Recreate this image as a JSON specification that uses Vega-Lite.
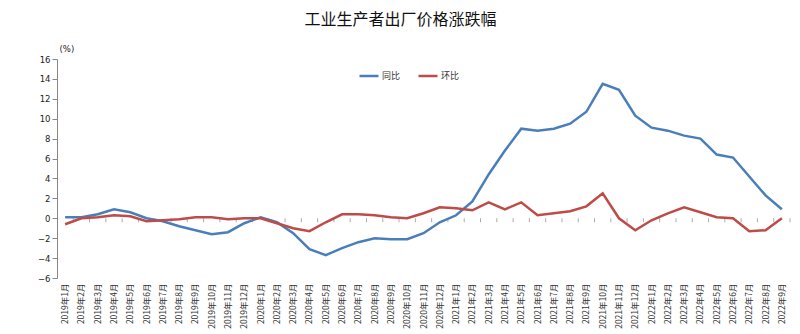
{
  "$schema": "https://vega.github.io/schema/vega-lite/v6.json",
  "width": 733,
  "height": 219,
  "autosize": {"type": "none"},
  "padding": {"left": 57, "top": 59, "right": 10, "bottom": 56},
  "background": "white",
  "title": {"text": "工业生产者出厂价格涨跌幅", "font": "Noto Sans CJK SC", "fontSize": 16, "fontWeight": "normal", "color": "#111", "anchor": "middle", "dx": -23, "offset": 16},
  "config": {"view": {"stroke": null}},
  "data": {"values": [
    {"m": "2019年1月", "同比": 0.1, "环比": -0.6},
    {"m": "2019年2月", "同比": 0.1, "环比": 0.0},
    {"m": "2019年3月", "同比": 0.4, "环比": 0.1},
    {"m": "2019年4月", "同比": 0.9, "环比": 0.3},
    {"m": "2019年5月", "同比": 0.6, "环比": 0.2},
    {"m": "2019年6月", "同比": 0.0, "环比": -0.3},
    {"m": "2019年7月", "同比": -0.3, "环比": -0.2},
    {"m": "2019年8月", "同比": -0.8, "环比": -0.1},
    {"m": "2019年9月", "同比": -1.2, "环比": 0.1},
    {"m": "2019年10月", "同比": -1.6, "环比": 0.1},
    {"m": "2019年11月", "同比": -1.4, "环比": -0.1},
    {"m": "2019年12月", "同比": -0.5, "环比": 0.0},
    {"m": "2020年1月", "同比": 0.1, "环比": 0.0},
    {"m": "2020年2月", "同比": -0.4, "环比": -0.5},
    {"m": "2020年3月", "同比": -1.5, "环比": -1.0},
    {"m": "2020年4月", "同比": -3.1, "环比": -1.3},
    {"m": "2020年5月", "同比": -3.7, "环比": -0.4},
    {"m": "2020年6月", "同比": -3.0, "环比": 0.4},
    {"m": "2020年7月", "同比": -2.4, "环比": 0.4},
    {"m": "2020年8月", "同比": -2.0, "环比": 0.3},
    {"m": "2020年9月", "同比": -2.1, "环比": 0.1},
    {"m": "2020年10月", "同比": -2.1, "环比": 0.0},
    {"m": "2020年11月", "同比": -1.5, "环比": 0.5},
    {"m": "2020年12月", "同比": -0.4, "环比": 1.1},
    {"m": "2021年1月", "同比": 0.3, "环比": 1.0},
    {"m": "2021年2月", "同比": 1.7, "环比": 0.8},
    {"m": "2021年3月", "同比": 4.4, "环比": 1.6},
    {"m": "2021年4月", "同比": 6.8, "环比": 0.9},
    {"m": "2021年5月", "同比": 9.0, "环比": 1.6},
    {"m": "2021年6月", "同比": 8.8, "环比": 0.3},
    {"m": "2021年7月", "同比": 9.0, "环比": 0.5},
    {"m": "2021年8月", "同比": 9.5, "环比": 0.7},
    {"m": "2021年9月", "同比": 10.7, "环比": 1.2},
    {"m": "2021年10月", "同比": 13.5, "环比": 2.5},
    {"m": "2021年11月", "同比": 12.9, "环比": 0.0},
    {"m": "2021年12月", "同比": 10.3, "环比": -1.2},
    {"m": "2022年1月", "同比": 9.1, "环比": -0.2},
    {"m": "2022年2月", "同比": 8.8, "环比": 0.5},
    {"m": "2022年3月", "同比": 8.3, "环比": 1.1},
    {"m": "2022年4月", "同比": 8.0, "环比": 0.6},
    {"m": "2022年5月", "同比": 6.4, "环比": 0.1},
    {"m": "2022年6月", "同比": 6.1, "环比": 0.0},
    {"m": "2022年7月", "同比": 4.2, "环比": -1.3},
    {"m": "2022年8月", "同比": 2.3, "环比": -1.2},
    {"m": "2022年9月", "同比": 0.9, "环比": 0.0}
  ]},
  "encoding": {
    "x": {
      "field": "m", "type": "ordinal", "sort": null,
      "axis": {"title": null, "labelAngle": -90, "labelFont": "Noto Sans CJK SC", "labelFontSize": 8.5, "labelColor": "#333", "labelPadding": 5, "ticks": false, "domain": false, "grid": false, "labelOverlap": false}
    }
  },
  "layer": [
    {
      "mark": {"type": "tick", "orient": "vertical", "size": 4, "thickness": 1, "color": "#888", "xOffset": 8.14, "yOffset": 2},
      "encoding": {
        "y": {
          "datum": 0, "type": "quantitative",
          "scale": {"domain": [-6, 16], "nice": false},
          "axis": {"values": [-6, -4, -2, 0, 2, 4, 6, 8, 10, 12, 14, 16], "gridColor": "#999", "domainColor": "#888", "tickColor": "#888", "tickSize": 5, "labelPadding": 2, "labelFont": "DejaVu Sans", "labelFontSize": 8.5, "labelColor": "#222", "title": "(%)", "titleAngle": 0, "titleAlign": "left", "titleBaseline": "alphabetic", "titleX": 2, "titleY": -8, "titleFont": "DejaVu Sans", "titleFontSize": 8.5, "titleFontWeight": "normal", "titleColor": "#222"}
        }
      }
    },
    {
      "transform": [{"fold": ["同比", "环比"], "as": ["s", "v"]}],
      "mark": {"type": "line", "strokeWidth": 2.5},
      "encoding": {
        "y": {
          "field": "v", "type": "quantitative",
          "scale": {"domain": [-6, 16], "nice": false},
          "axis": {"values": [-6, -4, -2, 0, 2, 4, 6, 8, 10, 12, 14, 16], "gridColor": "#999", "domainColor": "#888", "tickColor": "#888", "tickSize": 5, "labelPadding": 2, "labelFont": "DejaVu Sans", "labelFontSize": 8.5, "labelColor": "#222", "title": "(%)", "titleAngle": 0, "titleAlign": "left", "titleBaseline": "alphabetic", "titleX": 2, "titleY": -8, "titleFont": "DejaVu Sans", "titleFontSize": 8.5, "titleFontWeight": "normal", "titleColor": "#222"}
        },
        "color": {
          "field": "s", "type": "nominal",
          "scale": {"domain": ["同比", "环比"], "range": ["#4A7EBB", "#BE4B48"]},
          "legend": {"title": null, "orient": "none", "legendX": 301, "legendY": 6, "direction": "horizontal", "symbolType": "stroke", "symbolStrokeWidth": 2.5, "symbolSize": 361, "labelFont": "Noto Sans CJK SC", "labelFontSize": 9, "labelColor": "#333", "labelOffset": 2, "columnPadding": 12}
        }
      }
    }
  ]
}
